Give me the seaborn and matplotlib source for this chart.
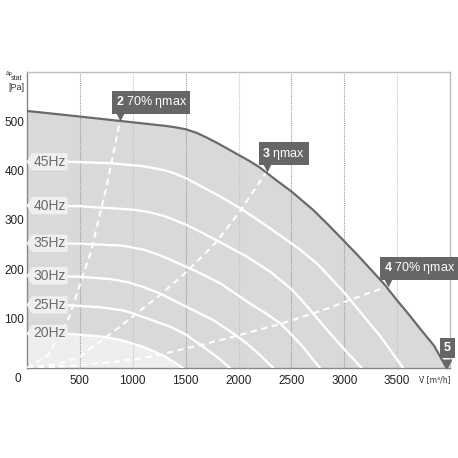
import matplotlib
matplotlib.use('Agg')
import matplotlib.pyplot as plt
from matplotlib.path import Path
from matplotlib.transforms import offset_copy
import seaborn as sns

# max curve (upper boundary of the operating area)
flow_max = [0, 400, 700, 1000, 1300, 1400, 1500, 1600, 1700, 1800, 1900, 2000, 2100, 2198, 2355,
            2500, 2708, 2850, 3000, 3130, 3250, 3370, 3500, 3620, 3716, 3850, 3962]
p_max = [521, 512, 505, 498, 491, 488, 484, 477, 467, 456, 444, 432, 420, 407, 381,
         358, 320, 290, 257, 228, 200, 172, 137, 106, 80, 45, 2]

# frequency curves
freq_labels = ['45Hz', '40Hz', '35Hz', '30Hz', '25Hz', '20Hz']
flow_45 = [0, 400, 800, 1100, 1300, 1400, 1510, 1650, 1825, 2030, 2300, 2582, 2750, 2900, 3020,
           3118, 3250, 3350, 3556]
p_45 = [418, 418, 415, 409, 401, 394, 384, 368, 348, 322, 283, 240, 210, 176, 148,
        122, 88, 62, 0]
flow_40 = [0, 500, 1000, 1150, 1300, 1510, 1650, 1825, 2078, 2300, 2500, 2600, 2700, 2834, 3000, 3165]
p_40 = [329, 328, 321, 316, 308, 290, 275, 255, 226, 195, 160, 137, 112, 78, 38, 0]
flow_35 = [0, 500, 900, 1100, 1250, 1350, 1600, 1825, 2100, 2250, 2392, 2500, 2600, 2770]
p_35 = [253, 252, 248, 240, 229, 220, 196, 172, 132, 112, 91, 68, 45, 0]
flow_30 = [0, 500, 800, 950, 1100, 1258, 1500, 1762, 1950, 2078, 2200, 2329]
p_30 = [187, 185, 180, 174, 164, 151, 125, 97, 70, 50, 27, 0]
flow_25 = [0, 400, 700, 900, 1000, 1128, 1352, 1500, 1667, 1800, 1920]
p_25 = [128, 127, 123, 117, 111, 101, 84, 68, 43, 22, 0]
flow_20 = [0, 400, 700, 900, 1100, 1300, 1475]
p_20 = [70, 69, 64, 56, 43, 24, 0]

# system curves (dashed)
flow_sys2 = [0, 200, 400, 600, 750, 880]
p_sys2 = [0, 26, 104, 233, 365, 502]
flow_sys3 = [0, 300, 500, 880, 1258, 1510, 1794, 2014, 2266]
p_sys3 = [0, 8, 23, 84, 148, 195, 256, 318, 398]
flow_sys4 = [0, 400, 800, 1100, 1352, 1650, 2014, 2424, 2834, 3054, 3417]
p_sys4 = [0, 4, 12, 20, 32, 47, 67, 91, 120, 138, 166]

# operating point markers
mark_num = ['2', '3', '4', '5']
mark_text = [' 70% ηmax', ' ηmax', ' 70% ηmax', '']
mark_flow = [880, 2266, 3417, 3975]
mark_p = [502, 398, 166, 0]

x_ticks = [500, 1000, 1500, 2000, 2500, 3000, 3500]
y_ticks = [100, 200, 300, 400, 500]

sns.set_theme(style='white')
plt.rcParams['font.family'] = ['Liberation Sans', 'DejaVu Sans']
plt.rcParams['mathtext.fontset'] = 'custom'
plt.rcParams['mathtext.bf'] = 'Liberation Sans:bold'
plt.rcParams['mathtext.rm'] = 'Liberation Sans'


def tag_box(x0, y0, width, height, mutation_size):
    # box with a pointed left side
    pad = 0.12 * mutation_size
    x0 -= pad
    y0 -= pad
    w = width + 2 * pad
    h = height + 2 * pad
    tip = h * 0.3
    verts = [(x0 - tip, y0 + h / 2), (x0, y0), (x0 + w, y0), (x0 + w, y0 + h),
             (x0, y0 + h), (x0 - tip, y0 + h / 2)]
    return Path(verts, closed=True)


fig = plt.figure(figsize=(4.58, 4.58), dpi=100)
ax = fig.add_axes([27 / 458, 90 / 458, 423 / 458, 296 / 458])
ax.set_xlim(0, 4000)
ax.set_ylim(0, 600)

# operating area
ax.fill_between(flow_max, p_max, color='#d9d9d9', lw=0, zorder=1)
ax.fill_between(flow_20, p_20, color='#eeeeee', lw=0, zorder=1.5)

# vertical dotted grid
for xt in x_ticks:
    c = '#9a9a9a' if xt in (500, 1500, 2500, 3000) else '#c4c4c4'
    ax.axvline(xt, color=c, lw=0.8, ls=(0, (1, 1)), zorder=2)

sns.lineplot(x=flow_max, y=p_max, sort=False, color='#6a6a6a', lw=1.6, ax=ax, zorder=5)

freq_flows = [flow_45, flow_40, flow_35, flow_30, flow_25, flow_20]
freq_ps = [p_45, p_40, p_35, p_30, p_25, p_20]
for lab, fx, fp in zip(freq_labels, freq_flows, freq_ps):
    sns.lineplot(x=fx, y=fp, sort=False, color='white', lw=1.7, ax=ax, zorder=4)
    ax.text(215, fp[0], lab, ha='center', va='center', fontsize=10, color='#6b6b6b', zorder=6,
            bbox=dict(boxstyle=tag_box, fc='#efefef', ec='none'))

for sx, sp in [(flow_sys2, p_sys2), (flow_sys3, p_sys3), (flow_sys4, p_sys4)]:
    sns.lineplot(x=sx, y=sp, sort=False, color='white', lw=1.5, ax=ax, zorder=3.5,
                 linestyle=(0, (3, 2.2)))

# operating point labels
for num, txt, mx, mp in zip(mark_num, mark_text, mark_flow, mark_p):
    tri = offset_copy(ax.transData, fig=fig, x=0, y=4.5, units='dots')
    ax.plot([mx], [mp], marker='v', ms=7, color='#666666', mec='none', transform=tri,
            clip_on=False, zorder=7)
    if num == '5':
        ax.annotate(r'$\mathbf{5}$', xy=(mx, mp), xytext=(0, 10), textcoords='offset points',
                    ha='center', va='bottom', fontsize=9, color='white', zorder=8,
                    annotation_clip=False,
                    bbox=dict(boxstyle='square,pad=0.28', fc='#666666', ec='none'))
    else:
        ax.annotate(r'$\mathbf{' + num + '}$' + txt, xy=(mx, mp), xytext=(-3.2, 7.2),
                    textcoords='offset points', ha='left', va='bottom', fontsize=9,
                    color='white', zorder=8, annotation_clip=False,
                    bbox=dict(boxstyle='square,pad=0.28', fc='#666666', ec='none'))

ax.set_xticks(x_ticks)
ax.set_xticklabels([str(v) for v in x_ticks])
ax.set_yticks(y_ticks)
ax.set_yticklabels([str(v) for v in y_ticks])
ax.tick_params(axis='both', length=0, labelsize=8.5, labelcolor='#222222')
ax.tick_params(axis='x', pad=5)
ax.tick_params(axis='y', pad=2)
ax.text(-0.021, -0.037, '0', transform=ax.transAxes, ha='center', va='center',
        fontsize=8.5, color='#222222')

for side in ['top', 'right']:
    ax.spines[side].set_color('#bdbdbd')
    ax.spines[side].set_linewidth(1.0)
for side in ['left', 'bottom']:
    ax.spines[side].set_color('#888888')
    ax.spines[side].set_linewidth(1.0)

fig.text(435 / 458, 1 - 380 / 458, 'V̇ [m³/h]', ha='center', va='center', fontsize=5.5,
         color='#333333', family=['DejaVu Sans'])
# y axis label: small "Δp" with "stat" subscript, then unit
fig.text(9.5 / 458, 1 - 74 / 458, 'Δp', ha='center', va='center', fontsize=4,
         color='#333333')
fig.text(17 / 458, 1 - 78.5 / 458, 'stat', ha='center', va='center', fontsize=5,
         color='#333333')
fig.text(16 / 458, 1 - 87.5 / 458, '[Pa]', ha='center', va='center', fontsize=6.5,
         color='#333333')

fig.savefig('out.png', dpi=100)
